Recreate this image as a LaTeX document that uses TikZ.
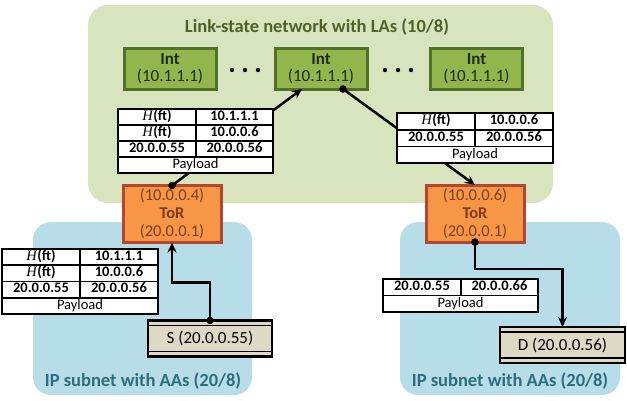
\documentclass[tikz,border=0pt]{standalone}
\usepackage{fontspec}
\setmainfont{Carlito}
\newfontfamily\hfont{Liberation Serif}
\usetikzlibrary{arrows.meta,calc}
\definecolor{greenbg}{HTML}{D7E4BD}
\definecolor{bluebg}{HTML}{B7DDE8}
\definecolor{intfill}{HTML}{92B64C}
\definecolor{intborder}{HTML}{53702A}
\definecolor{inttext}{HTML}{1E2B0C}
\definecolor{torfill}{HTML}{F79646}
\definecolor{torborder}{HTML}{B5452E}
\definecolor{tortext}{HTML}{7F3F15}
\definecolor{hostfill}{HTML}{DDD9C4}
\definecolor{titlegreen}{HTML}{4F6228}
\definecolor{titleblue}{HTML}{2C6D80}
\newcommand{\Hft}{{\hfont\itshape H}\textbf{(ft)}}
\begin{document}
\begin{tikzpicture}[x=1pt,y=-1pt,
  intbox/.style={draw=intborder, line width=3pt, fill=intfill, text=inttext,
    minimum width=92pt, minimum height=41pt, align=center, inner sep=0pt, outer sep=0pt,
    font=\fontsize{17}{17.5}\selectfont},
  torbox/.style={draw=torborder, line width=3pt, fill=torfill, text=tortext,
    minimum width=98pt, minimum height=57pt, align=center, inner sep=0pt, outer sep=0pt,
    font=\fontsize{16.5}{18}\selectfont},
  hostbox/.style={draw=black, line width=2.8pt, fill=hostfill, inner sep=0pt, outer sep=0pt,
    minimum height=36pt, font=\fontsize{17}{18}\selectfont},
  cell/.style={draw=black, line width=1.6pt, fill=white, inner sep=0pt, outer sep=0pt,
    anchor=north west, text height=9.5pt, text depth=3pt, font=\fontsize{14.5}{15}\selectfont},
  regionlabel/.style={font=\bfseries\fontsize{18.5}{20}\selectfont},
  arr/.style={line width=2.5pt, -{Stealth[length=10pt,width=9pt]}}
]
\useasboundingbox (0,0) rectangle (627,400);
% regions
\fill[greenbg, rounded corners=20pt] (88,5) rectangle (553,203);
\fill[bluebg, rounded corners=18pt] (33,222) rectangle (252,395);
\fill[bluebg, rounded corners=18pt] (400,222) rectangle (620,395);
\node[regionlabel, text=titlegreen] (title) at (317,27) {Link-state network with LAs (10/8)};
\node[regionlabel, text=titleblue] (lab1) at (143,381) {IP subnet with AAs (20/8)};
\node[regionlabel, text=titleblue] (lab2) at (510,381) {IP subnet with AAs (20/8)};
% intermediate switches
\node[intbox] (int1) at (170,68.5) {\textbf{Int}\\(10.1.1.1)};
\node[intbox] (int2) at (321,68.5) {\textbf{Int}\\(10.1.1.1)};
\node[intbox] (int3) at (476.5,68.5) {\textbf{Int}\\(10.1.1.1)};
\foreach \cx in {245,398}{
  \fill (\cx-13,70) circle (2.2);
  \fill (\cx,70) circle (2.2);
  \fill (\cx+13,70) circle (2.2);
}
% ToR switches
\node[torbox] (tor1) at (172,214) {(10.0.0.4)\\\textbf{ToR}\\(20.0.0.1)};
\node[torbox] (tor2) at (475,213.5) {(10.0.0.6)\\\textbf{ToR}\\(20.0.0.1)};
% hosts
\node[hostbox, minimum width=124pt] (S) at (210,338.5) {S (20.0.0.55)};
\node[hostbox, minimum width=125pt] (D) at (562.5,345) {D (20.0.0.56)};
\foreach \h in {S,D}{
  \draw[line width=1.6pt] ($(\h.north west)+(0,5)$) -- ($(\h.north east)+(0,5)$);
  \draw[line width=1.6pt] ($(\h.south west)+(0,-5)$) -- ($(\h.south east)+(0,-5)$);
}
% connectors
\coordinate (int2in) at ($(int2.south)+(-19,0)$);
\coordinate (int2out) at ($(int2.south)+(22,0)$);
\draw[arr] (tor1.north) -- (int2in);
\fill (tor1.north) circle (3.8);
\draw[arr] (int2out) -- (tor2.north);
\fill (int2out) circle (3.8);
\draw[arr] (S.north) -- ++(0,-38) -| (tor1.south);
\fill (S.north) circle (3.8);
\draw[arr] (tor2.south) -- ++(0,27) -| (D.north);
\fill (tor2.south) circle (3.8);
% packet header tables
% top-left
\node[cell, minimum width=78pt, minimum height=16pt] (t1a) at (118,109) {\Hft};
\node[cell, minimum width=77pt, minimum height=16pt] (t1b) at (196,109) {\textbf{10.1.1.1}};
\node[cell, minimum width=78pt, minimum height=16pt] (t1c) at (118,125) {\Hft};
\node[cell, minimum width=77pt, minimum height=16pt] (t1d) at (196,125) {\textbf{10.0.0.6}};
\node[cell, minimum width=78pt, minimum height=16pt] (t1e) at (118,141) {\textbf{20.0.0.55}};
\node[cell, minimum width=77pt, minimum height=16pt] (t1f) at (196,141) {\textbf{20.0.0.56}};
\node[cell, minimum width=155pt, minimum height=16pt] (t1g) at (118,157) {Payload};
% top-right
\node[cell, minimum width=78pt, minimum height=16.7pt] (t2a) at (397,113) {\Hft};
\node[cell, minimum width=78pt, minimum height=16.7pt] (t2b) at (475,113) {\textbf{10.0.0.6}};
\node[cell, minimum width=78pt, minimum height=16.7pt] (t2c) at (397,129.7) {\textbf{20.0.0.55}};
\node[cell, minimum width=78pt, minimum height=16.7pt] (t2d) at (475,129.7) {\textbf{20.0.0.56}};
\node[cell, minimum width=156pt, minimum height=16.7pt] (t2e) at (397,146.4) {Payload};
% lower-left
\node[cell, minimum width=78pt, minimum height=16.25pt] (t3a) at (2,249) {\Hft};
\node[cell, minimum width=78pt, minimum height=16.25pt] (t3b) at (80,249) {\textbf{10.1.1.1}};
\node[cell, minimum width=78pt, minimum height=16.25pt] (t3c) at (2,265.25) {\Hft};
\node[cell, minimum width=78pt, minimum height=16.25pt] (t3d) at (80,265.25) {\textbf{10.0.0.6}};
\node[cell, minimum width=78pt, minimum height=16.25pt] (t3e) at (2,281.5) {\textbf{20.0.0.55}};
\node[cell, minimum width=78pt, minimum height=16.25pt] (t3f) at (80,281.5) {\textbf{20.0.0.56}};
\node[cell, minimum width=156pt, minimum height=16.25pt] (t3g) at (2,297.75) {Payload};
% lower-right
\node[cell, minimum width=78pt, minimum height=16.5pt] (t4a) at (383,279) {\textbf{20.0.0.55}};
\node[cell, minimum width=77pt, minimum height=16.5pt] (t4b) at (461,279) {\textbf{20.0.0.66}};
\node[cell, minimum width=155pt, minimum height=16.5pt] (t4c) at (383,295.5) {Payload};
\end{tikzpicture}
\end{document}
